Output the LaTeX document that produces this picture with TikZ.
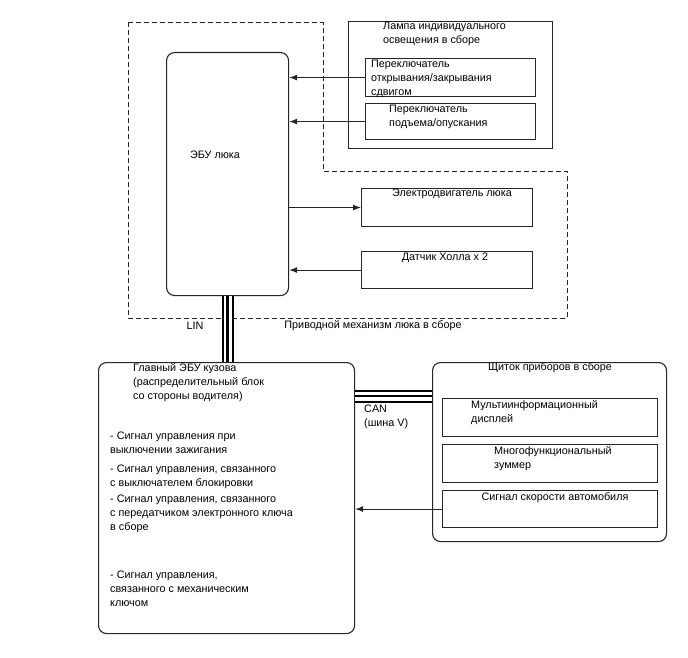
\documentclass[tikz,border=0pt]{standalone}
\usepackage{fontspec}
\setmainfont{Liberation Sans}
\usetikzlibrary{arrows.meta}
\begin{document}
\begin{tikzpicture}[x=1pt,y=-1pt,
  lc/.style={draw=black!85, line width=1.1pt},
  box/.style={lc, rectangle, anchor=north west, inner sep=0pt},
  rbox/.style={box, rounded corners=8pt},
  txt/.style={inner sep=0pt, align=left, font=\fontsize{10.8}{14}\selectfont, anchor=north west},
  ctxt/.style={inner sep=0pt, font=\fontsize{10.8}{14}\selectfont},
  arr/.style={draw=black!85, line width=1.1pt, -{Latex[length=8pt,width=6pt]}},
]
\useasboundingbox (0,0) rectangle (688,658);
\fill[white] (0,0) rectangle (688,658);

% dashed group boundary
\draw[black!85, line width=1pt, dash pattern=on 5pt off 3pt]
  (128,23) -- (323,23) -- (323,171) -- (567,171) -- (567,318) -- (128,318) -- cycle;

% boxes
\node[rbox, minimum width=122pt, minimum height=243pt] (ecu) at (166,52) {};
\node[box, minimum width=204pt, minimum height=127pt] (lamp) at (348,21) {};
\node[box, minimum width=170pt, minimum height=38pt] (sw1) at (365,58) {};
\node[box, minimum width=170pt, minimum height=36pt] (sw2) at (365,103) {};
\node[box, minimum width=171pt, minimum height=38pt] (motor) at (361,188) {};
\node[box, minimum width=171pt, minimum height=37pt] (hall) at (361,251) {};
\node[rbox, minimum width=256pt, minimum height=271pt] (bcm) at (98,362) {};
\node[rbox, minimum width=234pt, minimum height=179pt] (cluster) at (432,362) {};
\node[box, minimum width=215pt, minimum height=38pt] (mid) at (442,398) {};
\node[box, minimum width=215pt, minimum height=38pt] (buzz) at (442,444) {};
\node[box, minimum width=215pt, minimum height=37pt] (speed) at (442,490) {};

% texts
\node[ctxt] (tecu) at (215,155) {ЭБУ люка};
\node[txt] (tlamp) at (383,22) {Лампа индивидуального\\освещения в сборе};
\node[txt] (tsw1) at (371,59.5) {Переключатель\\открывания/закрывания\\сдвигом};
\node[txt] (tsw2) at (389,104.5) {Переключатель\\подъема/опускания};
\node[ctxt] (tmotor) at (452,194) {Электродвигатель люка};
\node[ctxt] (thall) at (445,258) {Датчик Холла х 2};
\node[ctxt] (tlin) at (195,326) {LIN};
\node[ctxt] (tact) at (373,326) {Приводной механизм люка в сборе};
\node[txt] (tbcm) at (133,363.5) {Главный ЭБУ кузова\\(распределительный блок\\со стороны водителя)};
\node[txt] (ts1) at (110,432) {- Сигнал управления при\\выключении зажигания};
\node[txt] (ts2) at (110,465) {- Сигнал управления, связанного\\с выключателем блокировки};
\node[txt] (ts3) at (110,495) {- Сигнал управления, связанного\\с передатчиком электронного ключа\\в сборе};
\node[txt] (ts4) at (110,571) {- Сигнал управления,\\связанного с механическим\\ключом};
\node[txt] (tcan) at (364,405) {CAN\\(шина V)};
\node[ctxt] (tcl) at (550,368) {Щиток приборов в сборе};
\node[txt] (tmid) at (471,400) {Мультиинформационный\\дисплей};
\node[txt] (tbuzz) at (494,446) {Многофункциональный\\зуммер};
\node[ctxt] (tspeed) at (555,498) {Сигнал скорости автомобиля};

% arrows
\draw[arr] (sw1.west) -- (sw1.west -| ecu.east);
\draw[arr] (sw2.west) -- (sw2.west -| ecu.east);
\draw[arr] (motor.west -| ecu.east) -- (motor.west);
\draw[arr] (hall.west) -- (hall.west -| ecu.east);
\draw[arr] (speed.west) -- (speed.west -| bcm.east);

% LIN bus
\draw[black, line width=12pt] (ecu.south) -- (ecu.south |- bcm.north);
\draw[white, line width=8pt] (ecu.south) -- (ecu.south |- bcm.north);
\draw[black, line width=3pt] (ecu.south) -- (ecu.south |- bcm.north);

% CAN bus
\draw[black, line width=13pt] ([yshift=-34pt]bcm.north east) -- ([yshift=-34pt]cluster.north west);
\draw[white, line width=9pt] ([yshift=-34pt]bcm.north east) -- ([yshift=-34pt]cluster.north west);
\draw[black, line width=1.5pt] ([yshift=-34pt]bcm.north east) -- ([yshift=-34pt]cluster.north west);
\end{tikzpicture}
\end{document}
